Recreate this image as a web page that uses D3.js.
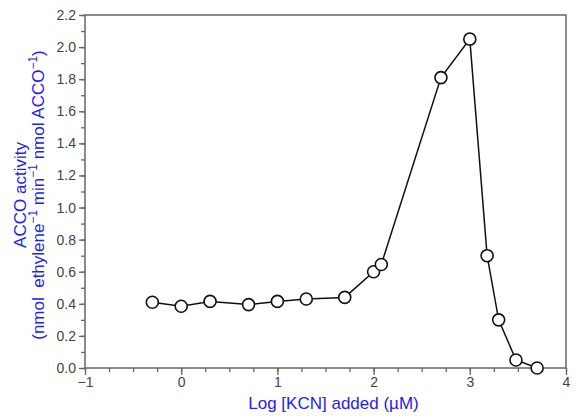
<!DOCTYPE html>
<html>
<head>
<meta charset="utf-8">
<script src="https://cdn.jsdelivr.net/npm/d3@7"></script>
<style>
  body { margin: 0; background: #fff; }
  text { font-family: "Liberation Sans", Arial, sans-serif; }
</style>
</head>
<body>
<svg id="chart"></svg>
<script>
const logKCN = [-0.3, 0, 0.3, 0.7, 1.0, 1.3, 1.7, 2.0, 2.08, 2.7, 3.0, 3.18, 3.3, 3.48, 3.7];
const activity = [0.41, 0.385, 0.415, 0.395, 0.415, 0.43, 0.44, 0.60, 0.645, 1.81, 2.05, 0.70, 0.30, 0.05, 0.0];
const xTicks = [-1, 0, 1, 2, 3, 4];
const yTicks = [0, 0.2, 0.4, 0.6, 0.8, 1.0, 1.2, 1.4, 1.6, 1.8, 2.0, 2.2];

const data = logKCN.map((x, i) => ({ x: x, y: activity[i] }));

const W = 576, H = 416;
const margin = { left: 85, right: 10, top: 15, bottom: 48 };

const svg = d3.select("#chart")
  .attr("width", W)
  .attr("height", H);

const x = d3.scaleLinear().domain([-1, 4]).range([margin.left, W - margin.right]);
const y = d3.scaleLinear().domain([0, 2.2]).range([H - margin.bottom, margin.top]);

const axisColor = "#666";

// frame
svg.append("rect")
  .attr("x", x(-1))
  .attr("y", y(2.2))
  .attr("width", x(4) - x(-1))
  .attr("height", y(0) - y(2.2))
  .attr("fill", "none")
  .attr("stroke", axisColor)
  .attr("stroke-width", 1.5);

// x axis
const xAxis = svg.append("g")
  .attr("transform", `translate(0,${y(0)})`);
xAxis.call(d3.axisBottom(x).tickValues(d3.range(-1, 4.001, 0.25)).tickSize(4).tickFormat(""));
xAxis.call(g => g.select(".domain").remove());
const xMajor = svg.append("g")
  .attr("transform", `translate(0,${y(0)})`)
  .call(d3.axisBottom(x).tickValues(xTicks).tickSize(7).tickPadding(2)
    .tickFormat(d => d < 0 ? "\u2212" + Math.abs(d) : d));
xMajor.select(".domain").remove();

// y axis
const yAxis = svg.append("g")
  .attr("transform", `translate(${x(-1)},0)`);
yAxis.call(d3.axisLeft(y).tickValues(d3.range(0, 2.201, 0.1)).tickSize(4).tickFormat(""));
yAxis.call(g => g.select(".domain").remove());
const yMajor = svg.append("g")
  .attr("transform", `translate(${x(-1)},0)`)
  .call(d3.axisLeft(y).tickValues(yTicks).tickSize(6).tickPadding(3).tickFormat(d3.format(".1f")));
yMajor.select(".domain").remove();

svg.selectAll(".tick line").attr("stroke", axisColor).attr("stroke-width", 1.3);
svg.selectAll(".tick text")
  .attr("fill", "#444")
  .style("font-size", "14px")
  .style("font-family", "'Liberation Sans', Arial, sans-serif");

// line
const line = d3.line().x(d => x(d.x)).y(d => y(d.y));
svg.append("path")
  .datum(data)
  .attr("d", line)
  .attr("fill", "none")
  .attr("stroke", "#111")
  .attr("stroke-width", 1.5);

// markers
svg.selectAll("circle.pt")
  .data(data)
  .enter()
  .append("circle")
  .attr("class", "pt")
  .attr("cx", d => x(d.x))
  .attr("cy", d => y(d.y))
  .attr("r", 6)
  .attr("fill", "#fff")
  .attr("stroke", "#111")
  .attr("stroke-width", 1.6);

// axis titles
const blue = "#2222ee";
svg.append("text")
  .attr("x", (x(-1) + x(4)) / 2 + 8)
  .attr("y", 409)
  .attr("text-anchor", "middle")
  .attr("fill", blue)
  .style("font-size", "17px")
  .text("Log [KCN] added (\u00b5M)");

const cy = 195;
svg.append("text")
  .attr("transform", `translate(26,${cy}) rotate(-90)`)
  .attr("text-anchor", "middle")
  .attr("fill", blue)
  .style("font-size", "17px")
  .text("ACCO activity");

const t2 = svg.append("text")
  .attr("transform", `translate(44,${cy}) rotate(-90)`)
  .attr("text-anchor", "middle")
  .attr("fill", blue)
  .style("font-size", "17px");
const parts = [["(nmol  ethylene", false], ["\u22121", true], [" min", false], ["\u22121", true], [" nmol ACCO", false], ["\u22121", true], [")", false]];
parts.forEach(([s, sup]) => {
  const ts = t2.append("tspan").text(s).attr("xml:space", "preserve");
  if (sup) ts.attr("baseline-shift", "super").style("font-size", "12px");
});
</script>
</body>
</html>
